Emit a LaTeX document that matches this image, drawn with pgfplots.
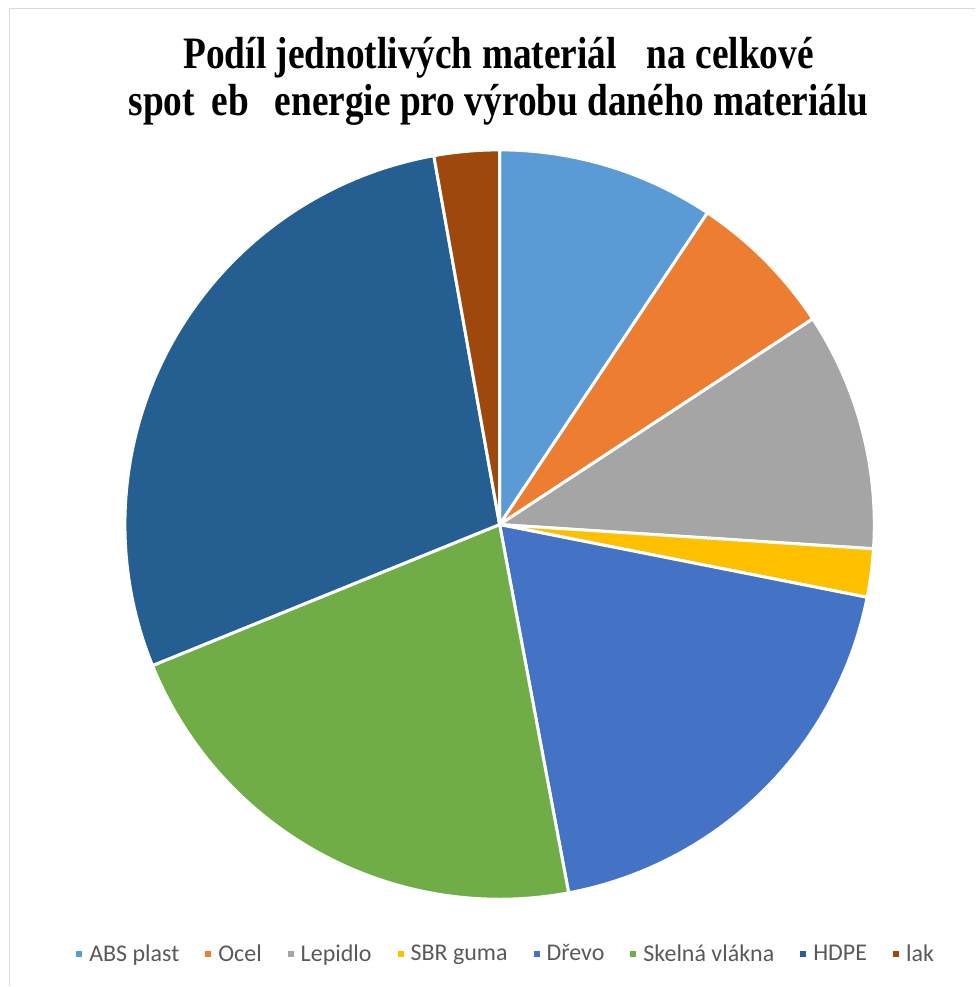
\documentclass[border=0pt]{standalone}
\usepackage{pgfplots}
\pgfplotsset{compat=1.18}
\usepackage{fontspec}
\setmainfont{Liberation Serif}
\newfontfamily\carlito{Carlito}

\definecolor{cABS}{HTML}{5B9BD5}
\definecolor{cOcel}{HTML}{ED7D31}
\definecolor{cLep}{HTML}{A5A5A5}
\definecolor{cSBR}{HTML}{FFC000}
\definecolor{cDrevo}{HTML}{4472C4}
\definecolor{cSkel}{HTML}{70AD47}
\definecolor{cHDPE}{HTML}{255E91}
\definecolor{cLak}{HTML}{9E480E}
\definecolor{frameg}{HTML}{D9D9D9}
\definecolor{legtext}{HTML}{595959}

\gdef\cum{0}
% #1 share in percent, #2 colour, #3 legend text
\newcommand\pieslice[3]{%
  \pgfmathsetmacro\angA{\cum*3.6}%
  \pgfmathsetmacro\angB{(\cum+#1)*3.6}%
  \pgfmathsetmacro\newcum{\cum+#1}%
  \xdef\cum{\newcum}%
  \edef\doplot{\noexpand\addplot[fill=#2, draw=white, line width=1.5pt, line join=round, domain=\angA:\angB, samples=90]
    ({500+375*sin(x)},{462+375*cos(x)}) -- (axis cs:500,462) -- cycle;}%
  \doplot
  \addlegendentry{#3}%
}

\begin{document}
\begin{tikzpicture}
\begin{axis}[
  width=488pt, height=493.5pt, scale only axis,
  xmin=0, xmax=976, ymin=0, ymax=987,
  hide axis, clip=false,
  legend columns=8,
  legend style={draw=none, fill=none, at={(axis cs:506,32)}, anchor=center,
    font=\carlito\fontsize{12}{14}\selectfont, text=legtext,
    /tikz/every even column/.append style={column sep=9.5pt},
    inner sep=0pt},
  legend image code/.code={\fill (0pt,-2.25pt) rectangle (4.5pt,2.25pt);},
]
\path (axis cs:0,0) rectangle (axis cs:976,987);
\draw[frameg, line width=0.8pt] (axis cs:9.5,0) -- (axis cs:9.5,978.5) -- (axis cs:976,978.5);

\pieslice{9.36}{cABS}{ABS plast}
\pieslice{6.39}{cOcel}{Ocel}
\pieslice{10.28}{cLep}{Lepidlo}
\pieslice{2.08}{cSBR}{SBR guma}
\pieslice{18.94}{cDrevo}{Dřevo}
\pieslice{21.81}{cSkel}{Skelná vlákna}
\pieslice{28.33}{cHDPE}{HDPE}
\pieslice{2.81}{cLak}{lak}

\node[anchor=base, font=\bfseries\fontsize{22.5}{26}\selectfont] at (axis cs:499,918)
  {\scalebox{0.83}[1]{Podíl jednotlivých materiál\phantom{ů} na celkové}};
\node[anchor=base, font=\bfseries\fontsize{22.5}{26}\selectfont] at (axis cs:499,871)
  {\scalebox{0.83}[1]{spot\phantom{ř}eb\phantom{ě} energie pro výrobu daného materiálu}};
\end{axis}
\end{tikzpicture}
\end{document}
